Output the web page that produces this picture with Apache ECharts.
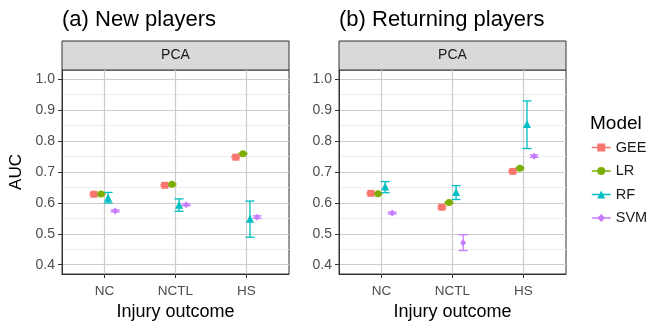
<!DOCTYPE html>
<html>
<head>
<meta charset="utf-8">
<script src="https://cdn.jsdelivr.net/npm/echarts@6/dist/echarts.min.js"></script>
<style>
html, body { margin: 0; padding: 0; background: #fff; }
#chart { width: 665px; height: 329px; }
</style>
</head>
<body>
<div id="chart"></div>
<script>
const outcomes = ['NC', 'NCTL', 'HS']
const models = ['GEE', 'LR', 'RF', 'SVM']
const yTicks = [0.4, 0.5, 0.6, 0.7, 0.8, 0.9, 1.0]
const yMinor = [0.45, 0.55, 0.65, 0.75, 0.85, 0.95]

// (a) New players: AUC and interval
const newGEE = [0.628, 0.657, 0.748]
const newGEELo = [0.625, 0.654, 0.745]
const newGEEHi = [0.631, 0.660, 0.751]
const newLR = [0.629, 0.660, 0.759]
const newLRLo = [0.627, 0.658, 0.757]
const newLRHi = [0.631, 0.662, 0.761]
const newRF = [0.617, 0.594, 0.549]
const newRFLo = [0.600, 0.573, 0.489]
const newRFHi = [0.634, 0.613, 0.606]
const newSVM = [0.574, 0.594, 0.554]
const newSVMLo = [0.571, 0.591, 0.550]
const newSVMHi = [0.577, 0.597, 0.558]

// (b) Returning players
const retGEE = [0.631, 0.586, 0.702]
const retGEELo = [0.628, 0.583, 0.699]
const retGEEHi = [0.634, 0.589, 0.705]
const retLR = [0.630, 0.601, 0.712]
const retLRLo = [0.628, 0.599, 0.710]
const retLRHi = [0.632, 0.603, 0.714]
const retRF = [0.653, 0.635, 0.855]
const retRFLo = [0.633, 0.611, 0.776]
const retRFHi = [0.669, 0.656, 0.930]
const retSVM = [0.567, 0.471, 0.751]
const retSVMLo = [0.564, 0.446, 0.747]
const retSVMHi = [0.570, 0.497, 0.755]

const colors = ['#F8766D', '#7CAE00', '#00BFC4', '#C77CFF']
const symbols = ['rect', 'circle', 'triangle', 'diamond']
const symbolSizes = [7, 7, 8, [6, 7]]
const dodge = [-0.15, -0.05, 0.05, 0.15]
const font = 'Liberation Sans'

const panels = [
    { mean: [newGEE, newLR, newRF, newSVM], lo: [newGEELo, newLRLo, newRFLo, newSVMLo], hi: [newGEEHi, newLRHi, newRFHi, newSVMHi] },
    { mean: [retGEE, retLR, retRF, retSVM], lo: [retGEELo, retLRLo, retRFLo, retSVMLo], hi: [retGEEHi, retLRHi, retRFHi, retSVMHi] },
]
const gridLeft = [62, 339]
const gridWidth = 227

let myChart = echarts.init(document.getElementById('chart'))

const grids = [], xAxes = [], yAxes = [], series = [], graphics = []

panels.forEach((p, pi) => {
    grids.push({ left: gridLeft[pi], top: 70, width: gridWidth, height: 204, show: true, borderColor: '#333', borderWidth: 1, backgroundColor: '#fff' })
    xAxes.push({
        gridIndex: pi, type: 'value', min: 0.4, max: 3.6,
        name: 'Injury outcome', nameLocation: 'middle', nameGap: 28,
        nameTextStyle: { fontSize: 18, color: '#000', fontFamily: font },
        axisLine: { show: true, lineStyle: { color: '#333', width: 1 } },
        axisTick: { show: true, length: 4, customValues: [1, 2, 3], lineStyle: { color: '#333' } },
        axisLabel: { customValues: [1, 2, 3], margin: 10, fontSize: 13.5, color: '#4d4d4d', fontFamily: font,
            formatter: v => outcomes[Math.round(v) - 1] },
        splitLine: { show: true, lineStyle: { color: '#cccccc', width: 1.2 } },
    })
    yAxes.push({
        gridIndex: pi, type: 'value', min: 0.37, max: 1.03,
        name: pi === 0 ? 'AUC' : '', nameLocation: 'middle', nameGap: 37, nameRotate: 90,
        nameTextStyle: { fontSize: 17, color: '#000', fontFamily: font },
        axisLine: { show: true, lineStyle: { color: '#333', width: 1 } },
        axisTick: { show: true, length: 4, customValues: yTicks, lineStyle: { color: '#333' } },
        axisLabel: { customValues: yTicks, margin: 7, fontSize: 14, color: '#4d4d4d', fontFamily: font,
            formatter: v => v.toFixed(1) },
        splitLine: { show: true, lineStyle: { color: '#cccccc', width: 1.2 } },
    })
    yAxes.push({
        gridIndex: pi, type: 'value', min: 0.37, max: 1.03,
        axisLine: { show: false },
        axisTick: { show: false, customValues: yMinor },
        axisLabel: { show: false, customValues: yMinor },
        splitLine: { show: true, lineStyle: { color: '#ededed', width: 1 } },
    })

    models.forEach((m, mi) => {
        // error bars
        series.push({
            name: m + ' ci', type: 'custom', xAxisIndex: pi, yAxisIndex: pi * 2, z: 2, silent: true,
            data: outcomes.map((o, i) => [i + 1 + dodge[mi], p.lo[mi][i], p.hi[mi][i]]),
            encode: { x: 0, y: [1, 2] },
            renderItem: (params, api) => {
                const x = api.value(0)
                const lo = api.coord([x, api.value(1)])
                const hi = api.coord([x, api.value(2)])
                const w = 4.5
                const style = { stroke: colors[mi], lineWidth: 1.3, fill: null }
                return { type: 'group', children: [
                    { type: 'line', shape: { x1: lo[0], y1: lo[1], x2: hi[0], y2: hi[1] }, style },
                    { type: 'line', shape: { x1: lo[0] - w, y1: lo[1], x2: lo[0] + w, y2: lo[1] }, style },
                    { type: 'line', shape: { x1: hi[0] - w, y1: hi[1], x2: hi[0] + w, y2: hi[1] }, style },
                ] }
            },
        })
        // points
        series.push({
            name: m, type: 'line', xAxisIndex: pi, yAxisIndex: pi * 2, z: 3, silent: true,
            data: outcomes.map((o, i) => [i + 1 + dodge[mi], p.mean[mi][i]]),
            symbol: symbols[mi], symbolSize: symbolSizes[mi], showSymbol: true,
            itemStyle: { color: colors[mi] },
            lineStyle: { color: colors[mi], opacity: 0, width: 1.5 },
        })
    })

    graphics.push({ type: 'rect', shape: { x: gridLeft[pi], y: 41, width: gridWidth, height: 29 },
        style: { fill: '#d9d9d9', stroke: '#333', lineWidth: 1 } })
    graphics.push({ type: 'text', x: gridLeft[pi] + gridWidth / 2, y: 55.5,
        style: { text: 'PCA', fill: '#1a1a1a', font: '14px ' + font, textAlign: 'center', textVerticalAlign: 'middle' } })
})

graphics.push({ type: 'text', x: 590, y: 124,
    style: { text: 'Model', fill: '#000', font: '19px ' + font, textVerticalAlign: 'middle' } })

var option = {
    animation: false,
    textStyle: { fontFamily: font },
    color: colors,
    title: [
        { text: '(a) New players', left: 62, top: 9, padding: 0, textStyle: { fontSize: 22, fontWeight: 'normal', color: '#000', fontFamily: font } },
        { text: '(b) Returning players', left: 339, top: 9, padding: 0, textStyle: { fontSize: 22, fontWeight: 'normal', color: '#000', fontFamily: font } },
    ],
    legend: {
        data: models, orient: 'vertical', left: 591, top: 140, padding: 0,
        itemWidth: 19, itemHeight: 10, itemGap: 8.5,
        textStyle: { fontSize: 14.5, color: '#1a1a1a', fontFamily: font },
        lineStyle: { opacity: 1, width: 1.5 },
        selectedMode: false,
    },
    grid: grids,
    xAxis: xAxes,
    yAxis: yAxes,
    series: series,
    graphic: graphics,
}
myChart.setOption(option)
</script>
</body>
</html>
